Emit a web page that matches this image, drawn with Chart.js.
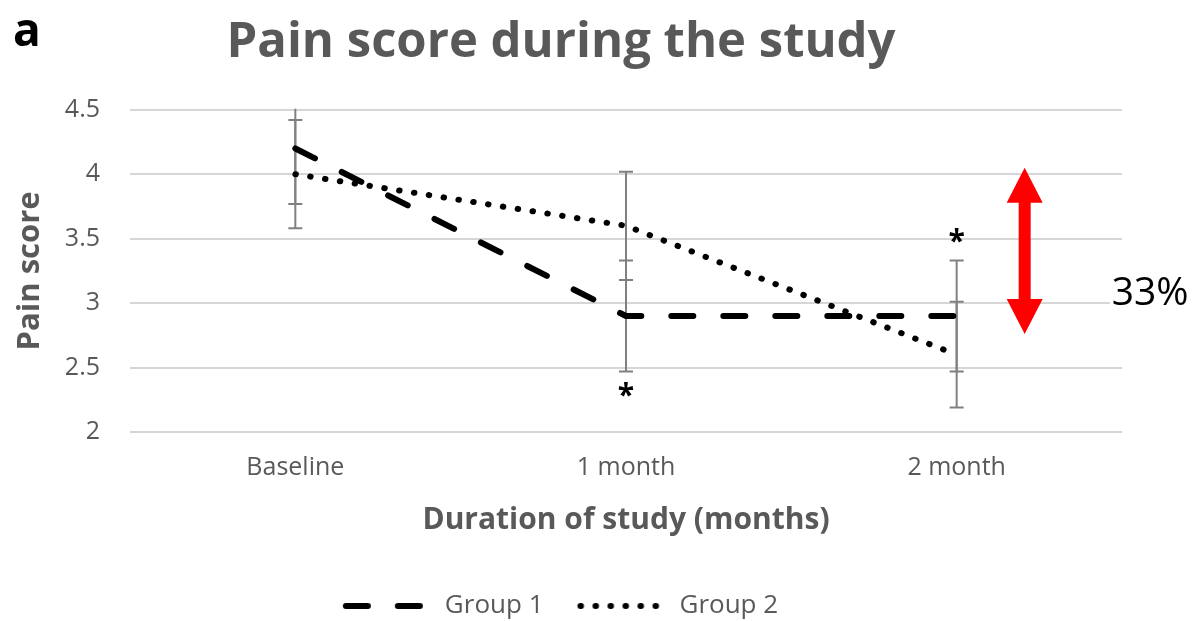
<!DOCTYPE html>
<html>
<head>
<meta charset="utf-8">
<script src="https://cdn.jsdelivr.net/npm/chart.js@4/dist/chart.umd.min.js"></script>
<style>
  html, body { margin: 0; padding: 0; background: #ffffff; }
  #wrap { width: 1197px; height: 621px; }
</style>
</head>
<body>
<div id="wrap"><canvas id="c" width="1197" height="621"></canvas></div>
<script>
// ---- data ----
const categories = ['Baseline', '1 month', '2 month'];
const group1 = [4.2, 2.9, 2.9];
const group2 = [4.0, 3.6, 2.6];
const group1Err = [0.43, 0.43, 0.43];
const group2Err = [0.42, 0.42, 0.41];
const yTickValues = [2, 2.5, 3, 3.5, 4, 4.5];
// significance marks: category index, anchored to Group 1 error bar end
const sigMarks = [
  { index: 1, side: 'below' },
  { index: 2, side: 'above' }
];
// red double arrow (value range on the y scale) and its label
const arrowRange = [4.05, 2.76];
const arrowLabel = '33%';
const arrowLabelValue = 3.01;

const FONT = "'Open Sans', 'Noto Sans', sans-serif";
const GREY_TEXT = '#595959';
const DASH_G1 = [22, 30];
const DASH_G2 = [0.5, 14.5];

// legend sample images (line style swatches)
function makeSwatch(dash) {
  const c = document.createElement('canvas');
  c.width = 92; c.height = 10;
  const g = c.getContext('2d');
  g.strokeStyle = '#000000';
  g.lineWidth = 6;
  g.lineCap = 'round';
  g.setLineDash(dash);
  g.beginPath();
  g.moveTo(4, 5); g.lineTo(88, 5);
  g.stroke();
  return c;
}

const errorBarPlugin = {
  id: 'errorBars',
  beforeDatasetsDraw(chart) {
    const { ctx, chartArea, scales: { x, y } } = chart;
    const sets = [[group1, group1Err], [group2, group2Err]];
    ctx.save();
    ctx.beginPath();
    ctx.rect(chartArea.left, chartArea.top - 1, chartArea.right - chartArea.left, chartArea.bottom - chartArea.top + 2);
    ctx.clip();
    ctx.strokeStyle = '#808080';
    ctx.lineWidth = 2;
    sets.forEach(([vals, errs]) => {
      vals.forEach((v, i) => {
        const px = x.getPixelForValue(i);
        const hi = y.getPixelForValue(v + errs[i]);
        const lo = y.getPixelForValue(v - errs[i]);
        ctx.beginPath();
        ctx.moveTo(px, hi); ctx.lineTo(px, lo);
        ctx.moveTo(px - 7, hi); ctx.lineTo(px + 7, hi);
        ctx.moveTo(px - 7, lo); ctx.lineTo(px + 7, lo);
        ctx.stroke();
      });
    });
    ctx.restore();
  }
};

const annotationPlugin = {
  id: 'annotations',
  afterDraw(chart) {
    const { ctx, scales: { x, y } } = chart;
    ctx.save();
    // panel letter
    ctx.fillStyle = '#000000';
    ctx.font = "bold 46px " + FONT;
    ctx.textBaseline = 'alphabetic';
    ctx.textAlign = 'left';
    ctx.fillText('a', 13, 46);

    // asterisks
    ctx.font = "bold 30px " + FONT;
    ctx.textAlign = 'center';
    ctx.textBaseline = 'middle';
    sigMarks.forEach(m => {
      const px = x.getPixelForValue(m.index);
      let py;
      if (m.side === 'below') {
        py = y.getPixelForValue(group1[m.index] - group1Err[m.index]) + 20;
      } else {
        py = y.getPixelForValue(group1[m.index] + group1Err[m.index]) - 23;
      }
      ctx.fillText('*', px, py + 5);
    });

    // red double-headed arrow
    const ax = x.getPixelForValue(2) + 68;
    const yTop = y.getPixelForValue(arrowRange[0]);
    const yBot = y.getPixelForValue(arrowRange[1]);
    const headL = 35, headW = 18, shaftW = 6;
    ctx.fillStyle = '#ff0000';
    ctx.beginPath();
    ctx.moveTo(ax, yTop);
    ctx.lineTo(ax + headW, yTop + headL);
    ctx.lineTo(ax + shaftW, yTop + headL);
    ctx.lineTo(ax + shaftW, yBot - headL);
    ctx.lineTo(ax + headW, yBot - headL);
    ctx.lineTo(ax, yBot);
    ctx.lineTo(ax - headW, yBot - headL);
    ctx.lineTo(ax - shaftW, yBot - headL);
    ctx.lineTo(ax - shaftW, yTop + headL);
    ctx.lineTo(ax - headW, yTop + headL);
    ctx.closePath();
    ctx.fill();

    // 33% label
    const ly = y.getPixelForValue(arrowLabelValue);
    const lx = ax + 87;
    ctx.fillStyle = '#ffffff';
    ctx.fillRect(lx - 2, ly - 36, 90, 46);
    ctx.fillStyle = '#000000';
    ctx.font = "39px " + FONT;
    ctx.textAlign = 'left';
    ctx.textBaseline = 'alphabetic';
    ctx.fillText(arrowLabel, lx, ly + 3);
    ctx.restore();
  }
};

const swatches = [makeSwatch(DASH_G1), makeSwatch(DASH_G2)];

new Chart(document.getElementById('c'), {
  type: 'line',
  data: {
    labels: categories,
    datasets: [
      {
        label: 'Group 1',
        data: group1,
        borderColor: '#000000',
        backgroundColor: '#000000',
        borderWidth: 6,
        borderDash: DASH_G1,
        borderCapStyle: 'round',
        borderJoinStyle: 'round',
        pointRadius: 0,
        pointHoverRadius: 0,
        pointStyle: swatches[0],
        tension: 0,
        fill: false
      },
      {
        label: 'Group 2',
        data: group2,
        borderColor: '#000000',
        backgroundColor: '#000000',
        borderWidth: 6,
        borderDash: DASH_G2,
        borderCapStyle: 'round',
        borderJoinStyle: 'round',
        pointRadius: 0,
        pointHoverRadius: 0,
        pointStyle: swatches[1],
        tension: 0,
        fill: false
      }
    ]
  },
  options: {
    responsive: false,
    animation: false,
    devicePixelRatio: 1,
    layout: { padding: { left: 0, right: 75, top: 0, bottom: -8 } },
    plugins: {
      title: {
        display: true,
        text: 'Pain score during the study',
        color: GREY_TEXT,
        font: { family: FONT, size: 49, weight: 'bold' },
        padding: { top: 14, bottom: 37 }
      },
      legend: {
        display: true,
        position: 'bottom',
        labels: {
          usePointStyle: true,
          pointStyleWidth: 88,
          color: GREY_TEXT,
          font: { family: FONT, size: 26 },
          padding: 35,
          generateLabels(chart) {
            return chart.data.datasets.map((ds, i) => ({
              text: ds.label,
              fillStyle: '#000000',
              strokeStyle: '#000000',
              lineWidth: 0,
              pointStyle: swatches[i],
              fontColor: GREY_TEXT,
              hidden: false,
              datasetIndex: i
            }));
          }
        }
      },
      tooltip: { enabled: false }
    },
    scales: {
      x: {
        type: 'category',
        offset: true,
        grid: { display: false, drawTicks: false },
        border: { display: false },
        ticks: { color: GREY_TEXT, font: { family: FONT, size: 25 }, padding: 21, maxRotation: 0 },
        title: {
          display: true,
          text: 'Duration of study (months)',
          color: GREY_TEXT,
          font: { family: FONT, size: 30, weight: 'bold' },
          padding: { top: 0, bottom: 20 }
        },
        afterFit(scale) { scale.height = 126; }
      },
      y: {
        min: yTickValues[0],
        max: yTickValues[yTickValues.length - 1],
        grid: { color: '#d6d6d6', lineWidth: 2, drawTicks: false },
        border: { display: false },
        afterBuildTicks(scale) { scale.ticks = yTickValues.map(v => ({ value: v })); },
        ticks: {
          color: GREY_TEXT,
          font: { family: FONT, size: 25 },
          padding: 30,
          callback: v => String(v)
        },
        title: {
          display: true,
          text: 'Pain score',
          color: GREY_TEXT,
          font: { family: FONT, size: 31, weight: 'bold' },
          padding: { top: 12, bottom: 0 }
        },
        afterFit(scale) { scale.width = 130; }
      }
    }
  },
  plugins: [errorBarPlugin, annotationPlugin]
});
</script>
</body>
</html>
